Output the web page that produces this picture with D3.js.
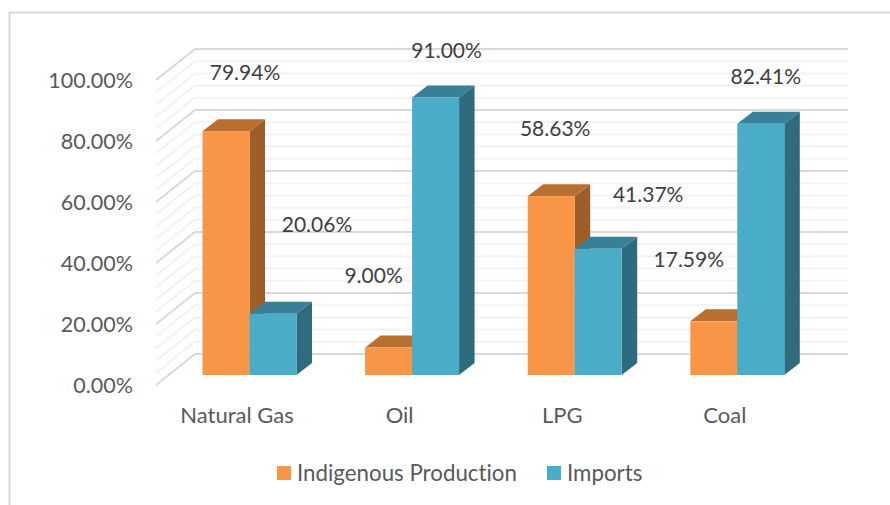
<!DOCTYPE html>
<html><head><meta charset="utf-8">
<script src="https://cdn.jsdelivr.net/npm/d3@7"></script>
<style>html,body{margin:0;background:#fff}svg{display:block}text{font-family:Lato,"Open Sans",sans-serif;font-variant-ligatures:none}</style>
</head><body><svg id="c" width="890" height="505"></svg>
<script>
const categories = ["Natural Gas","Oil","LPG","Coal"];
const seriesNames = ["Indigenous Production","Imports"];
const indigenous = [79.94,9.00,58.63,17.59];
const imports = [20.06,91.00,41.37,82.41];
const majorTicks = [0,20,40,60,80,100];
const minorTicks = [4,8,12,16,24,28,32,36,44,48,52,56,64,68,72,76,84,88,92,96];

const frontColors = ["#F99546","#49ADC8"];
const topColors = ["#B96F30","#387F98"];
const sideColors = ["#9E5E28","#2F6B7E"];
const svg = d3.select("#c");
const y = d3.scaleLinear().domain([0,100]).range([375,70]);
const x0 = d3.scaleBand().domain(categories).range([168.2,818.6]).paddingInner(0.422).paddingOuter(0.211);
const x1 = d3.scaleBand().domain([0,1]).range([0,x0.bandwidth()]);
const series = [indigenous,imports];

svg.append("path").attr("d","M890,12.5H9.5V505").attr("fill","none").attr("stroke","#d9d9d9").attr("stroke-width",2);

// walls
const wallF = {x:156,dy:10}, wallB = {x:195,dy:-21}, wallR = 848;
const grid = svg.append("g").attr("fill","none");
function gridLine(v,color,w){
  grid.append("path").attr("stroke",color).attr("stroke-width",w)
   .attr("d",`M${wallF.x},${y(v)+wallF.dy}L${wallB.x},${y(v)+wallB.dy}H${wallR}`);
}
minorTicks.forEach(v=>gridLine(v,"#f2f2f2",2));
majorTicks.forEach(v=>gridLine(v,"#d9d9d9",2));

// bars
const depthX=15.5, depthY=12;
categories.forEach((c,i)=>{
  const g=svg.append("g").attr("transform",`translate(${x0(c)},0)`);
  series.forEach((vals,s)=>{
    const l=x1(s), r=l+x1.bandwidth(), t=y(vals[i]), b=y(0);
    g.append("path").attr("fill",sideColors[s]).attr("d",`M${r},${t}L${r+depthX},${t-depthY}V${b-depthY}L${r},${b}Z`);
    g.append("path").attr("fill",topColors[s]).attr("d",`M${l},${t}L${l+depthX},${t-depthY}H${r+depthX}L${r},${t}Z`);
    g.append("rect").attr("x",l).attr("y",t).attr("width",x1.bandwidth()).attr("height",b-t).attr("fill",frontColors[s]);
  });
});

// axes
const yAxis = svg.append("g").attr("transform","translate(139,11)").call(d3.axisLeft(y).tickValues(majorTicks).tickSize(0).tickPadding(6).tickFormat(d=>d.toFixed(2)+"%"));
yAxis.select(".domain").remove();
yAxis.selectAll("text").attr("font-size",21.5).attr("fill","#595959").style("font-family","Lato");
const xAxis = svg.append("g").attr("transform","translate(-12.5,0)");
categories.forEach(c=>{
  xAxis.append("text").attr("x",x0(c)+x0.bandwidth()/2).attr("y",415).attr("dy","0.35em").attr("text-anchor","middle")
   .attr("font-size",22).attr("fill","#595959").text(c);
});

// data labels (offset from the top-centre of each bar)
const labelShift = [[[19,-59],[44,-89]],[[-15,-72],[11,-47]],[[4,-68],[50,-54]],[[-25,-62],[5,-47]]];
categories.forEach((c,i)=>{
  series.forEach((vals,s)=>{
    const cx=x0(c)+x1(s)+x1.bandwidth()/2;
    svg.append("text").attr("x",cx+labelShift[i][s][0]).attr("y",y(vals[i])+labelShift[i][s][1]).attr("dy","0.35em")
      .attr("text-anchor","middle").attr("font-size",21).attr("fill","#404040").text(vals[i].toFixed(2)+"%");
  });
});

// legend
const legendX=[277,547];
seriesNames.forEach((n,s)=>{
  svg.append("rect").attr("x",legendX[s]).attr("y",466).attr("width",14).attr("height",14).attr("fill",frontColors[s]);
  svg.append("text").attr("x",legendX[s]+20).attr("y",473).attr("dy","0.35em").attr("font-size",22.3).attr("fill","#595959").text(n);
});
</script></body></html>
